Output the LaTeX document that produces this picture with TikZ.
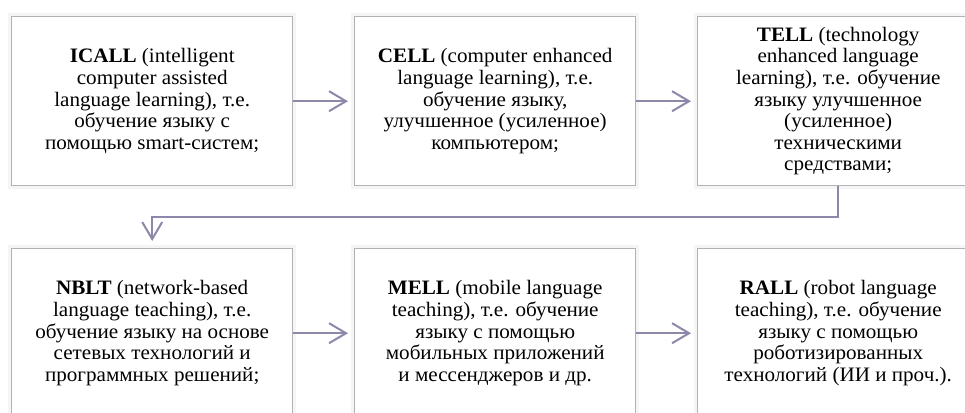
\documentclass[tikz,border=0pt]{standalone}
\usepackage{fontspec}
\setmainfont[FakeStretch=1.03]{Liberation Serif}
\usetikzlibrary{arrows.meta}
\definecolor{flow}{HTML}{8C88AA}
\definecolor{frame}{HTML}{B2B2B2}
\begin{document}
\begin{tikzpicture}[x=1pt,y=-1pt,
  stage/.style={draw=frame, line width=1.4pt, fill=white,
    minimum width=281pt, minimum height=169pt, anchor=north west,
    align=center, inner sep=0pt,
    font=\fontsize{20.5}{21.6}\selectfont,
    preaction={draw=black!4, line width=7pt}},
  link/.style={draw=flow, line width=2pt,
    -{Straight Barb[length=17pt,width=20pt,line width=2pt]}}]
\useasboundingbox (0,0) rectangle (965,412);
\clip (0,0) rectangle (965,412);
\fill[white] (0,0) rectangle (965,412);

% first row
\node[stage] (icall) at (11,16) {\textbf{ICALL} (intelligent\\computer assisted\\language learning), т.е.\\обучение языку с\\помощью smart-систем;};
\node[stage] (cell) at (354,16) {\textbf{CELL} (computer enhanced\\language learning), т.е.\\обучение языку,\\улучшенное (усиленное)\\компьютером;};
\node[stage] (tell) at (697,16) {\textbf{TELL} (technology\\enhanced language\\learning), т.е. обучение\\языку улучшенное\\(усиленное)\\техническими\\средствами;};

% second row
\node[stage] (nblt) at (11,248) {\textbf{NBLT} (network-based\\language teaching), т.е.\\обучение языку на основе\\сетевых технологий и\\программных решений;};
\node[stage] (mell) at (354,248) {\textbf{MELL} (mobile language\\teaching), т.е. обучение\\языку с помощью\\мобильных приложений\\и мессенджеров и др.};
\node[stage] (rall) at (697,248) {\textbf{RALL} (robot language\\teaching), т.е. обучение\\языку с помощью\\роботизированных\\технологий (ИИ и проч.).};

% connectors
\draw[link, shorten >=6pt] (icall) -- (cell);
\draw[link, shorten >=6pt] (cell) -- (tell);
\draw[link, shorten >=7pt] (tell.south) -- ++(0,31) -| (nblt.north);
\draw[link, shorten >=6pt] (nblt) -- (mell);
\draw[link, shorten >=6pt] (mell) -- (rall);
\end{tikzpicture}
\end{document}
